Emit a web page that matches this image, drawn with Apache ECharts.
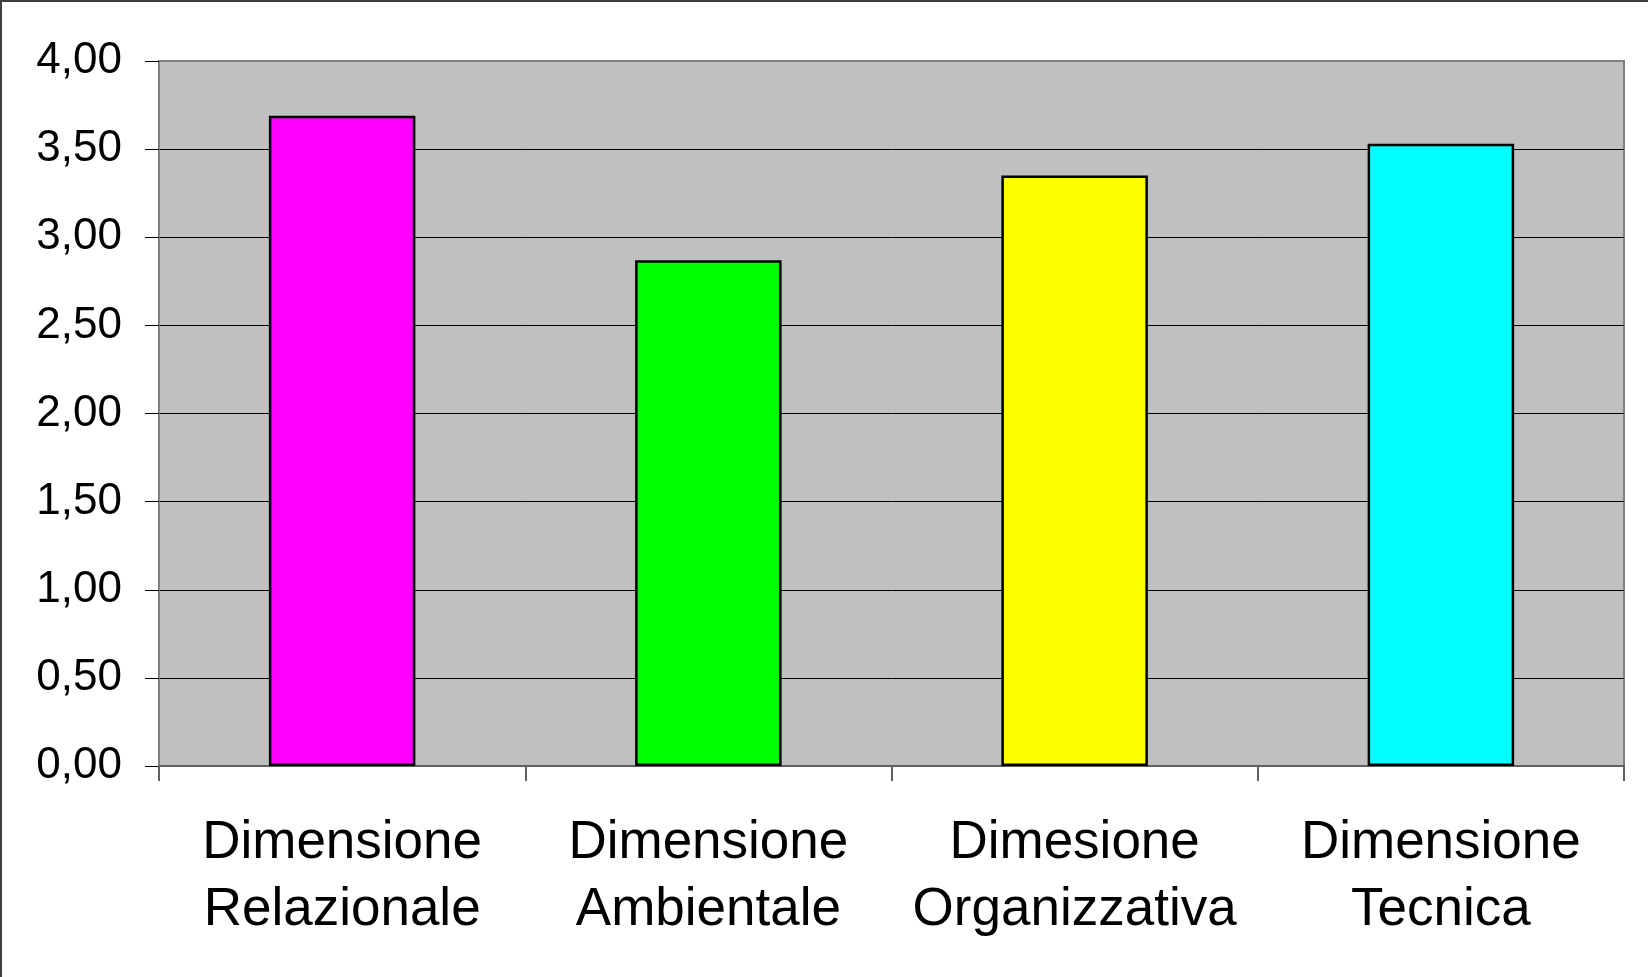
<!DOCTYPE html>
<html>
<head>
<meta charset="utf-8">
<script src="https://cdn.jsdelivr.net/npm/echarts@6/dist/echarts.min.js"></script>
<style>
  html, body { margin: 0; padding: 0; background: #fff; }
  #chart { width: 1648px; height: 977px; box-sizing: border-box; border-top: 2px solid #404040; border-left: 2px solid #404040; }
</style>
</head>
<body>
<div id="chart"></div>
<script>
// categorie e valori
var categories = ["Dimensione\nRelazionale", "Dimensione\nAmbientale", "Dimesione\nOrganizzativa", "Dimensione\nTecnica"];
var values = [3.69, 2.87, 3.35, 3.53];
var barColors = ["#FF00FF", "#00FF00", "#FFFF00", "#00FFFF"];

var myChart = echarts.init(document.getElementById("chart"));
myChart.setOption({
  animation: false,
  grid: {
    left: 157,
    right: 24,
    top: 59,
    bottom: 211,
    show: true,
    backgroundColor: "#C0C0C0",
    borderColor: "#808080",
    borderWidth: 2
  },
  xAxis: {
    type: "category",
    data: categories,
    axisLine: { lineStyle: { color: "#606060", width: 2 } },
    axisTick: { show: true, length: 15, lineStyle: { color: "#606060", width: 2 } },
    axisLabel: {
      margin: 44,
      color: "#000",
      fontFamily: "Liberation Sans",
      fontSize: 53,
      lineHeight: 67,
      interval: 0
    },
    splitLine: { show: false }
  },
  yAxis: {
    type: "value",
    min: 0,
    max: 4,
    interval: 0.5,
    axisLine: { show: true, lineStyle: { color: "#808080", width: 2 } },
    axisTick: { show: true, length: 14, lineStyle: { color: "#000", width: 1 } },
    axisLabel: {
      margin: 37,
      color: "#000",
      fontFamily: "Liberation Sans",
      fontSize: 44,
      formatter: function (v) { return v.toFixed(2).replace(".", ","); }
    },
    splitLine: {
      show: true,
      lineStyle: {
        width: 1,
        //prima e ultima grigie
        color: ["#808080", "#000", "#000", "#000", "#000", "#000", "#000", "#000", "#808080"]
      }
    }
  },
  series: [
    {
      type: "bar",
      barCategoryGap: "60%",
      data: values.map(function (v, i) {
        return { value: v, itemStyle: { color: barColors[i] } };
      }),
      itemStyle: { borderColor: "#000", borderWidth: 2.5 }
    }
  ]
});
</script>
</body>
</html>
